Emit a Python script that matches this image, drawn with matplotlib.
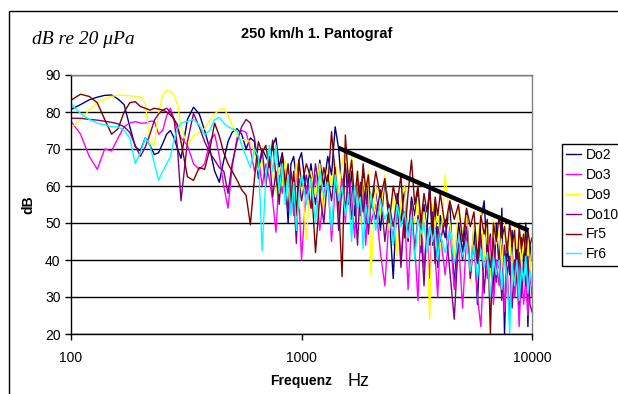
import numpy as np
import matplotlib
matplotlib.use("Agg")
from matplotlib import pyplot as plt
from matplotlib.patches import Rectangle

# ---------------- data ----------------
freq = [100, 110, 120, 130, 140, 150, 160, 170, 180, 190, 200,
        210, 220, 230, 240, 250, 260, 270, 280, 290, 300,
        320, 340, 360, 380, 400, 420, 440, 460, 480, 500,
        525, 550, 575, 600, 625, 650, 675, 700, 725, 750, 775, 800, 825, 850, 875, 900, 925, 950, 975, 1000,
        1050, 1100, 1150, 1200, 1250, 1300, 1350, 1400, 1450, 1500, 1550, 1600, 1650, 1700, 1750, 1800, 1850, 1900, 1950, 2000,
        2100, 2200, 2300, 2400, 2500, 2600, 2700, 2800, 2900, 3000, 3100, 3200, 3300, 3400, 3500, 3600, 3700, 3800, 3900, 4000,
        4200, 4400, 4600, 4800, 5000, 5200, 5400, 5600, 5800, 6000, 6200, 6400, 6600, 6800, 7000,
        7200, 7400, 7600, 7800, 8000, 8200, 8400, 8600, 8800, 9000, 9200, 9400, 9600, 9800, 10000]

do2 = [80.7, 82, 83.3, 84, 84.5, 84.6, 83.5, 82, 76, 70.6, 69.5,
       73, 71, 68.5, 69, 71.5, 74, 75, 73, 70, 67.5,
       78, 81.3, 79.5, 75, 70, 64, 61, 67, 72, 74.5,
       75.5, 74, 70, 73, 72, 62, 70, 68, 66, 71, 73, 65, 69, 63, 50, 66, 68, 62, 67, 69,
       58, 66, 55, 67, 60, 68, 63, 76, 70, 58, 66, 55, 64, 52, 62, 57, 64, 50, 61, 55,
       60, 48, 62, 53, 35, 58, 50, 60, 45, 57, 52, 59, 42, 55, 48, 61, 44, 56, 38, 52,
       46, 55, 33, 50, 42, 53, 36, 49, 28, 51, 56, 40, 47, 31, 50,
       38, 54, 20, 45, 36, 48, 30, 44, 25, 46, 38, 50, 22, 44, 40]

do3 = [77.5, 74, 68, 64.5, 70, 69.5, 73, 76, 77, 77.4, 77,
       77, 77.5, 77.5, 74, 75, 79, 81, 78, 75, 73,
       71, 66, 64.5, 66, 72, 74, 68, 60, 54, 65,
       73, 75, 74.5, 70, 64, 68, 60, 66, 62, 56, 47.5, 63, 58, 66, 55, 61, 52, 64, 57, 40,
       60, 54, 63, 48, 58, 62, 45, 60, 55, 62, 50, 64, 57, 46, 60, 53, 58, 44, 57, 50,
       55, 42, 33, 52, 46, 56, 40, 53, 32, 50, 44, 29, 51, 38, 48, 35, 52, 41, 30, 47,
       36, 49, 32, 45, 27, 46, 38, 44, 30, 22, 42, 35, 46, 28, 40,
       33, 44, 26, 38, 24, 41, 30, 36, 22, 39, 28, 35, 25, 37, 30]

do9 = [75.6, 78, 80.5, 82.5, 83.5, 84.2, 84.6, 84.5, 84.4, 84.2, 84,
       82.5, 72, 71, 80, 84.5, 85.8, 85.5, 84.5, 82, 76,
       71, 73.5, 74.5, 75.5, 77.8, 79.5, 80.5, 81, 79, 76.5,
       73.5, 72.5, 72.5, 72, 69, 64, 67, 62, 66, 63, 58, 65, 60, 67, 56, 63, 58, 66, 54, 62,
       45.5, 64, 57, 66, 52, 65, 60, 67, 58, 66, 71, 62, 68, 55, 64, 50, 62, 58, 64, 36,
       60, 52, 63, 48, 58, 41, 56, 60, 46, 55, 50, 57, 44, 53, 47, 24, 55, 49, 54, 43,
       63, 50, 41, 54, 47, 52, 34, 50, 45, 53, 40, 49, 36, 51, 44,
       48, 38, 50, 42, 47, 35, 49, 43, 46, 38, 48, 41, 45, 37, 44]

do10 = [78.3, 78.3, 78, 77.8, 77.5, 77.2, 76.8, 76, 74.5, 71, 68,
        70.5, 74, 77.8, 79.5, 80.5, 81, 80, 78, 70, 56,
        72, 79.6, 76, 72, 69, 67, 65, 64, 58, 66,
        72, 76, 78, 77, 73, 65, 70, 60, 68, 57, 64, 55, 67, 60, 53, 64, 58, 44.5, 62, 56,
        63, 54, 66, 58, 50, 63, 56, 65, 48, 60, 54, 63, 51, 58, 44, 61, 53, 59, 47, 56,
        51, 59, 45, 55, 49, 57, 38, 53, 47, 56, 42, 52, 48, 33, 50, 44, 53, 39, 49, 45,
        51, 37, 24, 46, 40, 49, 35, 45, 39, 47, 31, 44, 38, 46, 34,
        42, 29, 44, 36, 41, 27, 40, 34, 42, 30, 39, 33, 41, 28, 26]

fr5 = [83.2, 84.8, 84.2, 82.5, 78, 74, 75.5, 80, 82.5, 82.8, 81.5,
       81, 80.5, 81, 80.8, 80.5, 80, 79.2, 78, 76.5, 72,
       62.5, 61.5, 65, 64.5, 70, 77, 73.5, 69, 66, 64,
       61.6, 59, 57.5, 49.5, 62, 72, 69, 71, 65, 72.4, 62, 57, 68, 60, 66, 55, 64, 52, 67, 60,
       66, 62, 42, 57, 65, 60, 74.7, 63, 55, 35.5, 73.8, 61, 67, 56, 64, 52, 66, 59, 63, 54,
       64, 57, 62, 50, 60, 55, 63, 46, 58, 67, 55, 60, 50, 58, 53, 59, 47, 57, 52, 58,
       49, 56, 51, 55, 45, 54, 49, 53, 40, 52, 47, 51, 20, 50, 45,
       52, 46, 49, 42, 50, 44, 48, 35, 49, 43, 47, 41, 48, 44, 46]

fr6 = [82.2, 79.6, 78, 77, 76.5, 76, 76, 75, 73, 66.1, 69,
       73, 71, 66, 61.6, 64, 66, 68, 72.5, 75.5, 77,
       77.5, 78, 76.5, 73.8, 75, 78, 78.5, 77, 76, 75.5,
       75, 71, 68, 65, 70, 68, 42.5, 62, 71, 64, 71, 58, 66, 55, 63, 52, 61, 48, 58, 63,
       55, 62, 50, 64, 57, 61, 48, 63, 56, 60, 52, 58, 45, 60, 54, 57, 43, 55, 50, 58,
       48, 56, 51, 54, 44, 55, 49, 53, 46, 52, 40, 51, 47, 50, 42, 49, 45, 48, 40, 47,
       42, 48, 39, 46, 41, 45, 37, 44, 35, 43, 38, 42, 30, 41, 36,
       40, 32, 41, 35, 20, 39, 33, 40, 29, 38, 34, 41, 31, 37, 33]

series_names = ["Do2", "Do3", "Do9", "Do10", "Fr5", "Fr6"]
series_colors = ["#000080", "#FF00FF", "#FFFF00", "#800080", "#800000", "#00FFFF"]

# black slope line
trend_f = [1445, 9650]
trend_db = [70.3, 48.0]

# ---------------- figure ----------------
plt.rcParams['font.family'] = ['Liberation Sans', 'DejaVu Sans']

W, H = 618, 394
fig = plt.figure(figsize=(W / 100, H / 100), dpi=100)
fig.patch.set_facecolor("white")
ax = fig.add_axes([71 / W, 1 - 334 / H, (532 - 71) / W, (334 - 75) / H])

for vals, name, col in zip([do2, do3, do9, do10, fr5, fr6], series_names, series_colors):
    ax.plot(freq, vals, color=col, lw=1.0, label=name)

ax.plot(trend_f, trend_db, color="black", lw=3.2, solid_capstyle="butt")

ax.set_xscale("log")
ax.set_xlim(100, 10000)
ax.set_ylim(20, 90)
ax.set_xticks([100, 1000, 10000])
ax.set_xticklabels(["100", "1000", "10000"])
ax.xaxis.set_minor_locator(matplotlib.ticker.NullLocator())
ax.set_yticks(range(20, 91, 10))
ax.tick_params(axis="both", direction="out", length=4, width=1, labelsize=10, colors="black")
ax.tick_params(axis="x", pad=8)

ax.set_axisbelow(True)
ax.yaxis.grid(True, color="black", lw=1)
ax.spines["left"].set_color("black")
ax.spines["bottom"].set_color("black")
ax.spines["top"].set_color("#808080")
ax.spines["right"].set_color("#808080")
for s in ax.spines.values():
    s.set_linewidth(1)

# texts
fig.text(316.5 / W, 1 - 34 / H, "250 km/h 1. Pantograf", ha="center", va="center",
         fontsize=10.5, fontweight="bold")
fig.text(32 / W, 1 - 39 / H, "dB re 20 \u03bcPa", ha="left", va="center",
         fontsize=14, style="italic", family=["Liberation Serif", "DejaVu Serif"])
fig.text(28 / W, 1 - 205 / H, "dB", ha="center", va="center", rotation=90,
         fontsize=10, fontweight="bold")
fig.text(301 / W, 1 - 381 / H, "Frequenz", ha="center", va="center",
         fontsize=10, fontweight="bold")
fig.text(347 / W, 1 - 382 / H, "Hz", ha="left", va="center", fontsize=13)

# chart area border (only top and left visible in the picture)
fig.patches.append(Rectangle((9 / W, -0.5), 2.0, 0.5 + 1 - 11 / H, transform=fig.transFigure,
                             fill=False, edgecolor="black", lw=1))

leg = fig.legend(loc="upper left", bbox_to_anchor=(562 / W, 1 - 144 / H), fontsize=10,
                 frameon=True, fancybox=False, edgecolor="black", framealpha=1,
                 borderpad=0.3, labelspacing=0.42, handlelength=1.1, handletextpad=0.3,
                 borderaxespad=0)
leg.get_frame().set_linewidth(1)

fig.savefig("out.png", dpi=100)
